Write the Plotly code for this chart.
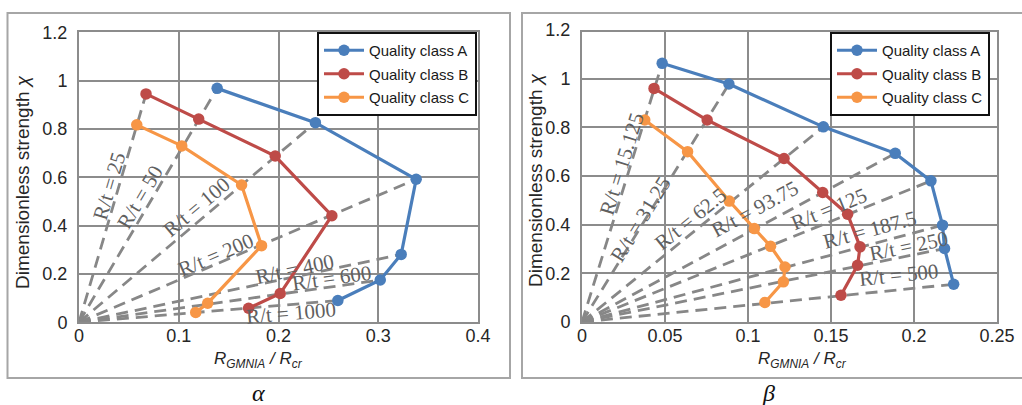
import math
import plotly.graph_objects as go

W, H = 1022, 405

# ---------------- panel alpha ----------------
a_rays = [25, 50, 100, 200, 400, 600, 1000]
a_ray_text = ["R/t = 25", "R/t = 50", "R/t = 100", "R/t = 200", "R/t = 400", "R/t = 600", "R/t = 1000"]
a_lab_x = [0.030, 0.061, 0.118, 0.137, 0.217, 0.2535, 0.213]
a_lab_y = [0.566, 0.520, 0.476, 0.279, 0.221, 0.182, 0.040]

a_A_x = [0.1385, 0.237, 0.338, 0.323, 0.302, 0.2595]
a_A_y = [0.968, 0.826, 0.592, 0.281, 0.175, 0.090]
a_A_ray = [50, 100, 200, 400, 600, 1000]
a_B_x = [0.0672, 0.120, 0.1967, 0.2535, 0.2017, 0.170]
a_B_y = [0.945, 0.841, 0.688, 0.441, 0.119, 0.058]
a_B_ray = [25, 50, 100, 200, 600, 1000]
a_C_x = [0.0579, 0.103, 0.163, 0.183, 0.129, 0.117]
a_C_y = [0.817, 0.730, 0.568, 0.317, 0.079, 0.041]
a_C_ray = [25, 50, 100, 200, 600, 1000]

# ---------------- panel beta ----------------
b_rays = [15.625, 31.25, 62.5, 93.75, 125, 187.5, 250, 500]
b_ray_text = ["R/t = 15.125", "R/t = 31.25", "R/t = 62.5", "R/t = 93.75", "R/t = 125", "R/t = 187.5", "R/t = 250", "R/t = 500"]
b_lab_x = [0.0239, 0.0354, 0.0653, 0.104, 0.1488, 0.173, 0.197, 0.1907]
b_lab_y = [0.649, 0.4225, 0.425, 0.466, 0.466, 0.380, 0.311, 0.192]

b_A_x = [0.0483, 0.0885, 0.1454, 0.1887, 0.2102, 0.2172, 0.2184, 0.2239]
b_A_y = [1.063, 0.978, 0.802, 0.693, 0.580, 0.398, 0.302, 0.155]
b_B_x = [0.0434, 0.0754, 0.1217, 0.145, 0.160, 0.1675, 0.166, 0.156]
b_B_y = [0.960, 0.830, 0.672, 0.532, 0.443, 0.309, 0.233, 0.110]
b_C_x = [0.0378, 0.0636, 0.0887, 0.1038, 0.1136, 0.1223, 0.1213, 0.1102]
b_C_y = [0.830, 0.700, 0.497, 0.384, 0.311, 0.226, 0.165, 0.080]
b_ray_idx = b_rays  # every series has one point on each ray

series_names = ["Quality class A", "Quality class B", "Quality class C"]
series_colors = ["#4A7EBB", "#BE4B48", "#F79646"]

# ---------------- layout geometry (pixels) ----------------
panels = {
    "a": dict(xd=(79, 478), yd=(32.3, 322.3), xr=(0, 0.4), dx=0.1, xa="x", ya="y", legend="legend"),
    "b": dict(xd=(582, 997), yd=(30, 322), xr=(0, 0.25), dx=0.05, xa="x2", ya="y2", legend="legend2"),
}
YR = (0, 1.2)

fig = go.Figure()
annotations = []

SANS = "Liberation Sans, Arial, sans-serif"
SERIF = "Liberation Serif, Times New Roman, serif"


def add_panel(key, series, rays, ray_text, lab_x, lab_y):
    p = panels[key]
    pxu = (p["xd"][1] - p["xd"][0]) / (p["xr"][1] - p["xr"][0])
    pyu = (p["yd"][1] - p["yd"][0]) / (YR[1] - YR[0])
    # rays: from origin to farthest point lying on that ray
    ends = {}
    for xs, ys, rs in series:
        for x, y, r in zip(xs, ys, rs):
            d = math.hypot(x, y)
            if r not in ends or d > ends[r][2]:
                ends[r] = (x, y, d)
    for r in rays:
        ex, ey, _ = ends[r]
        fig.add_trace(go.Scatter(
            x=[0, ex], y=[0, ey], mode="lines", xaxis=p["xa"], yaxis=p["ya"],
            line=dict(color="#878787", width=2.8, dash="12px,7px"),
            showlegend=False, hoverinfo="skip"))
    for r, t, lx, ly in zip(rays, ray_text, lab_x, lab_y):
        ex, ey, _ = ends[r]
        ang = math.degrees(math.atan2(ey * pyu, ex * pxu))
        annotations.append(dict(
            x=lx, y=ly, xref=p["xa"], yref=p["ya"], text=t, showarrow=False,
            textangle=-ang, font=dict(family=SERIF, size=21, color="#606060"),
            xanchor="center", yanchor="middle"))
    for i, (xs, ys, rs) in enumerate(series):
        fig.add_trace(go.Scatter(
            x=xs, y=ys, mode="lines+markers", name=series_names[i],
            xaxis=p["xa"], yaxis=p["ya"], legend=p["legend"], legendgroup=f"{key}{i}",
            line=dict(color=series_colors[i], width=3.2),
            marker=dict(color=series_colors[i], size=11.5)))


add_panel("a", [(a_A_x, a_A_y, a_A_ray), (a_B_x, a_B_y, a_B_ray), (a_C_x, a_C_y, a_C_ray)],
          a_rays, a_ray_text, a_lab_x, a_lab_y)
add_panel("b", [(b_A_x, b_A_y, b_ray_idx), (b_B_x, b_B_y, b_ray_idx), (b_C_x, b_C_y, b_ray_idx)],
          b_rays, b_ray_text, b_lab_x, b_lab_y)

GRID = "#8c8c8c"


def xaxis(p):
    return dict(domain=[p["xd"][0] / W, p["xd"][1] / W], range=list(p["xr"]), dtick=p["dx"], tick0=0,
                showgrid=True, gridcolor=GRID, gridwidth=2, zeroline=False,
                showline=True, linecolor=GRID, linewidth=2, mirror=True,
                ticks="", automargin=False, ticklabelstandoff=-4,
                tickfont=dict(family=SANS, size=18, color="#262626"), fixedrange=True)


def yaxis(p, anchor):
    return dict(domain=[1 - p["yd"][1] / H, 1 - p["yd"][0] / H], range=list(YR), dtick=0.2, tick0=0,
                showgrid=True, gridcolor=GRID, gridwidth=2, zeroline=False,
                showline=True, linecolor=GRID, linewidth=2, mirror=True,
                ticks="outside", ticklen=6, tickcolor="rgba(0,0,0,0)", anchor=anchor, automargin=False,
                tickfont=dict(family=SANS, size=18, color="#262626"), fixedrange=True)


pa, pb = panels["a"], panels["b"]
legend_common = dict(xanchor="right", yanchor="top", bordercolor="#111111", borderwidth=2,
                     bgcolor="white", font=dict(family=SANS, size=15, color="#1a1a1a"),
                     tracegroupgap=1, itemwidth=40)

# axis titles and panel captions
xtitle = "<i>R</i><sub><i>GMNIA</i></sub><i> / R</i><sub><i>cr</i></sub>"
ytitle = "Dimensionless strength <i>χ</i>"
for cx in [258, 802]:
    annotations.append(dict(x=cx / W, y=1 - 360 / H, xref="paper", yref="paper", text=xtitle,
                            showarrow=False, font=dict(family=SANS, size=17, color="#262626"),
                            xanchor="center", yanchor="middle"))
for ytx, cy in [(22, 182), (535, 180)]:
    annotations.append(dict(x=ytx / W, y=1 - cy / H, xref="paper", yref="paper", text=ytitle,
                            showarrow=False, textangle=-90,
                            font=dict(family=SANS, size=19, color="#262626"),
                            xanchor="center", yanchor="middle"))
for cx, t in [(258, "α"), (768, "β")]:
    annotations.append(dict(x=cx / W, y=1 - 393 / H, xref="paper", yref="paper", text=f"<i>{t}</i>",
                            showarrow=False, font=dict(family=SERIF, size=24, color="#111111"),
                            xanchor="center", yanchor="middle"))

shapes = [
    dict(type="rect", xref="paper", yref="paper", x0=7.5 / W, x1=510 / W, y0=1 - 378 / H, y1=1 - 13 / H,
         line=dict(color="#a6a6a6", width=2)),
    dict(type="rect", xref="paper", yref="paper", x0=522 / W, x1=1035 / W, y0=1 - 378 / H, y1=1 - 13 / H,
         line=dict(color="#a6a6a6", width=2)),
]

fig.update_layout(
    width=W, height=H, autosize=False,
    margin=dict(l=0, r=0, t=0, b=0, autoexpand=False),
    paper_bgcolor="white", plot_bgcolor="white",
    xaxis=xaxis(pa), yaxis=yaxis(pa, "x"),
    xaxis2=xaxis(pb), yaxis2=yaxis(pb, "x2"),
    legend=dict(x=477 / W, y=1 - 32 / H, **legend_common),
    legend2=dict(x=990 / W, y=1 - 32 / H, **legend_common),
    annotations=annotations,
    shapes=shapes,
    showlegend=True,
    hovermode=False,
)

fig.write_html("out.html", config={"displayModeBar": False, "staticPlot": False},
               post_script="document.body.style.margin='0';document.body.style.overflow='hidden';")
